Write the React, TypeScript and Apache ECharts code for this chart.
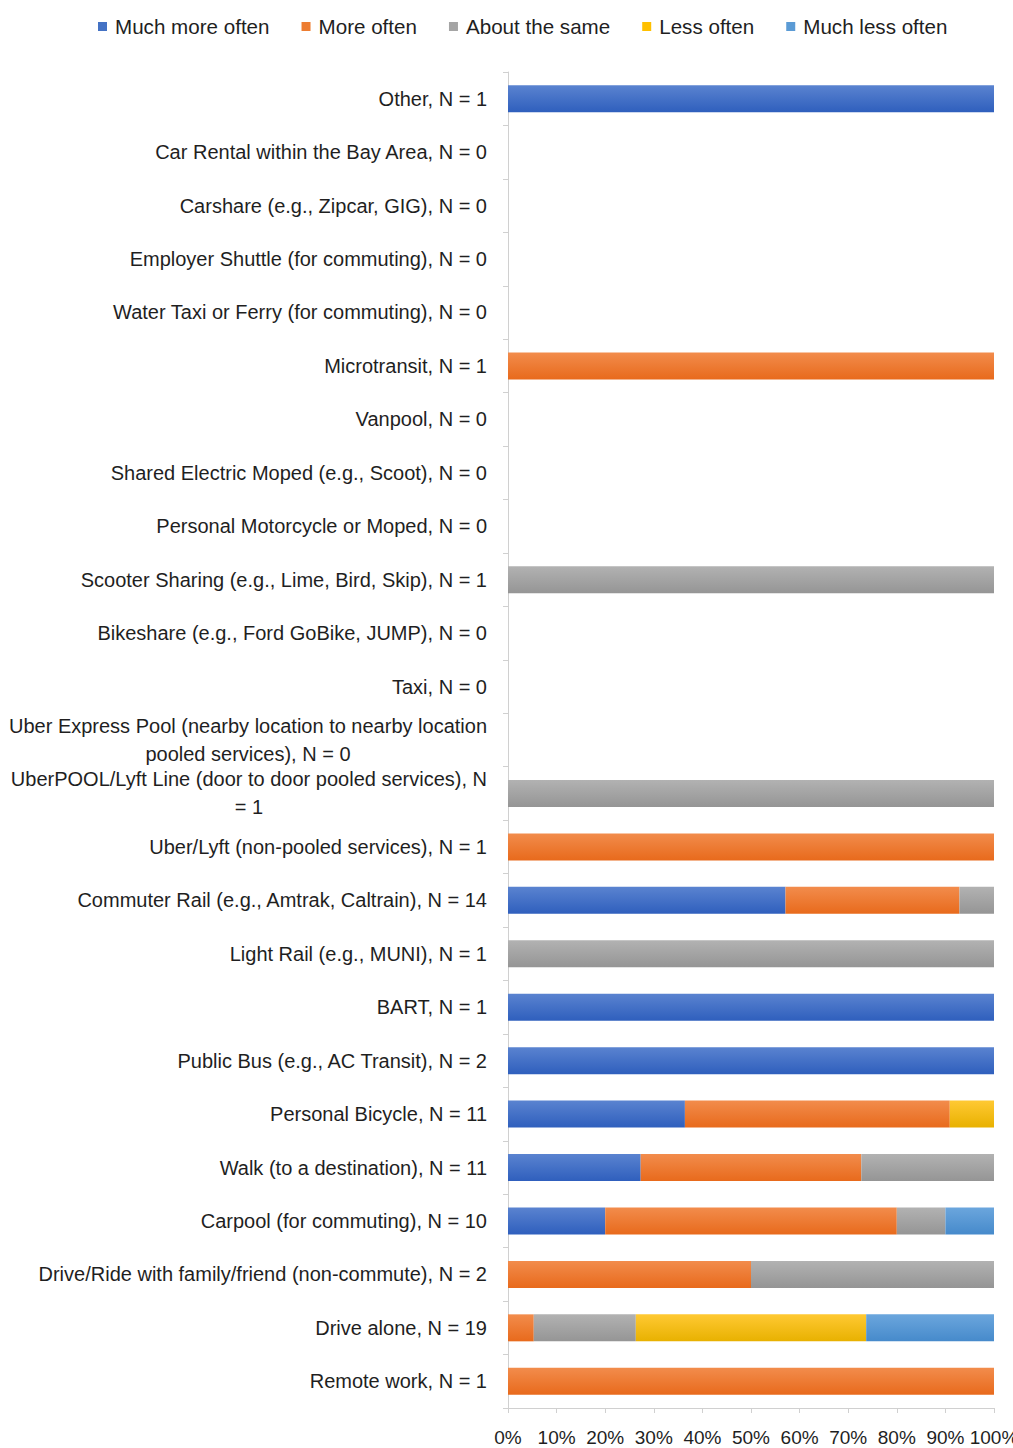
import React, { useEffect, useRef } from "react";
import * as echarts from "echarts";

const categories: string[] = [
  "Remote work, N = 1",
  "Drive alone, N = 19",
  "Drive/Ride with family/friend (non-commute), N = 2",
  "Carpool (for commuting), N = 10",
  "Walk (to a destination), N = 11",
  "Personal Bicycle, N = 11",
  "Public Bus (e.g., AC Transit), N = 2",
  "BART, N = 1",
  "Light Rail (e.g., MUNI), N = 1",
  "Commuter Rail (e.g., Amtrak, Caltrain), N = 14",
  "Uber/Lyft (non-pooled services), N = 1",
  "UberPOOL/Lyft Line (door to door pooled services), N\n= 1",
  "Uber Express Pool (nearby location to nearby location\npooled services), N = 0",
  "Taxi, N = 0",
  "Bikeshare (e.g., Ford GoBike, JUMP), N = 0",
  "Scooter Sharing (e.g., Lime, Bird, Skip), N = 1",
  "Personal Motorcycle or Moped, N = 0",
  "Shared Electric Moped (e.g., Scoot), N = 0",
  "Vanpool, N = 0",
  "Microtransit, N = 1",
  "Water Taxi or Ferry (for commuting), N = 0",
  "Employer Shuttle (for commuting), N = 0",
  "Carshare (e.g., Zipcar, GIG), N = 0",
  "Car Rental within the Bay Area, N = 0",
  "Other, N = 1",
];

const seriesNames: string[] = [
  "Much more often",
  "More often",
  "About the same",
  "Less often",
  "Much less often",
];

const muchMoreOften: number[] = [0, 0, 0, 20, 27.3, 36.4, 100, 100, 0, 57.1, 0, 0, 0, 0, 0, 0, 0, 0, 0, 0, 0, 0, 0, 0, 100];
const moreOften: number[] = [100, 5.3, 50, 60, 45.4, 54.5, 0, 0, 0, 35.8, 100, 0, 0, 0, 0, 0, 0, 0, 0, 100, 0, 0, 0, 0, 0];
const aboutTheSame: number[] = [0, 21.0, 50, 10, 27.3, 0, 0, 0, 100, 7.1, 0, 100, 0, 0, 0, 100, 0, 0, 0, 0, 0, 0, 0, 0, 0];
const lessOften: number[] = [0, 47.4, 0, 0, 0, 9.1, 0, 0, 0, 0, 0, 0, 0, 0, 0, 0, 0, 0, 0, 0, 0, 0, 0, 0, 0];
const muchLessOften: number[] = [0, 26.3, 0, 10, 0, 0, 0, 0, 0, 0, 0, 0, 0, 0, 0, 0, 0, 0, 0, 0, 0, 0, 0, 0, 0];

const xTicks: number[] = [0, 10, 20, 30, 40, 50, 60, 70, 80, 90, 100];

const FONT = "Liberation Sans";
const TEXT = "#1f1f1f";

export default function App() {
  const ref = useRef<HTMLDivElement>(null);
  useEffect(() => {
    if (!ref.current) return;
    const chart = echarts.init(ref.current, null, { renderer: "svg" });
    const grad = (a: string, b: string) =>
      new echarts.graphic.LinearGradient(0, 0, 0, 1, [
        { offset: 0, color: a },
        { offset: 1, color: b },
      ]);
    const colors = [
      ["#5A83D0", "#2F5FBD"],
      ["#F28C4C", "#E86A1C"],
      ["#B2B2B2", "#959595"],
      ["#FFC933", "#E8B100"],
      ["#6BA6DD", "#468ACB"],
    ];
    const legendColors = ["#4472C4", "#ED7D31", "#A5A5A5", "#FFC000", "#5B9BD5"];
    const values = [muchMoreOften, moreOften, aboutTheSame, lessOften, muchLessOften];
    chart.setOption({
      animation: false,
      legend: {
        top: 11,
        left: 93,
        icon: "rect",
        itemWidth: 9,
        itemHeight: 9,
        itemGap: 32,
        textStyle: { fontFamily: FONT, fontSize: 20.6, color: TEXT, padding: [0, 0, 0, 3] },
        data: seriesNames.map((n, i) => ({ name: n, itemStyle: { color: legendColors[i] } })),
      },
      grid: { left: 508, right: 19, top: 72, bottom: 40, containLabel: false, outerBoundsMode: "none" },
      xAxis: {
        type: "value",
        min: 0,
        max: 100,
        interval: 10,
        axisLine: { show: true, lineStyle: { color: "#d0d0d0" } },
        axisTick: { show: true, length: 5, lineStyle: { color: "#d0d0d0" } },
        splitLine: { show: false },
        axisLabel: {
          margin: 20,
          fontFamily: FONT,
          fontSize: 19,
          color: TEXT,
          hideOverlap: false,
          showMaxLabel: true,
          formatter: (v: number) => (xTicks.includes(v) ? v + "%" : ""),
        },
      },
      yAxis: {
        type: "category",
        data: categories,
        axisLine: { show: true, lineStyle: { color: "#d0d0d0" } },
        axisTick: { show: true, length: 5, lineStyle: { color: "#d0d0d0" } },
        axisLabel: {
          margin: 21,
          interval: 0,
          fontFamily: FONT,
          fontSize: 20,
          color: TEXT,
          lineHeight: 28,
          formatter: (v: string) => {
            if (v.indexOf("\n") >= 0) {
              return v
                .split("\n")
                .map((s) => "{c|" + s + "}")
                .join("\n");
            }
            return v;
          },
          rich: {
            c: { align: "center", fontFamily: FONT, fontSize: 20, color: TEXT, lineHeight: 28 },
          },
        },
      },
      series: seriesNames.map((n, i) => ({
        name: n,
        type: "bar",
        stack: "total",
        barWidth: 27,
        itemStyle: { color: grad(colors[i][0], colors[i][1]) },
        data: values[i],
      })),
    });
    return () => chart.dispose();
  }, []);
  return (
    <div
      ref={ref}
      style={{ position: "fixed", left: 0, top: 0, width: 1013, height: 1448, background: "#fff" }}
    />
  );
}
